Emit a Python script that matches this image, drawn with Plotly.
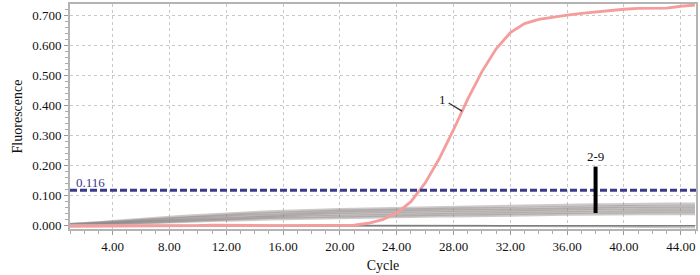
import plotly.graph_objects as go

cycles = list(range(1, 46))

sample_1 = [-0.004, -0.004, -0.003, -0.003, -0.003, -0.002, -0.003, -0.002, -0.002, -0.002,
            0.000, -0.001, -0.002, -0.002, -0.002, -0.002, -0.002, -0.002, -0.002, -0.001,
            0.000, 0.006, 0.018, 0.040, 0.078, 0.140, 0.222, 0.318, 0.420, 0.512,
            0.588, 0.642, 0.672, 0.686, 0.694, 0.700, 0.706, 0.711, 0.716, 0.720,
            0.723, 0.724, 0.724, 0.730, 0.734]

neg_2 = [0.003, 0.005, 0.008, 0.012, 0.016, 0.020, 0.023, 0.026, 0.029, 0.032, 0.035, 0.038, 0.040, 0.042, 0.044,
         0.046, 0.048, 0.050, 0.051, 0.052, 0.053, 0.054, 0.055, 0.056, 0.057, 0.058, 0.059, 0.060, 0.060, 0.061,
         0.061, 0.062, 0.063, 0.064, 0.065, 0.066, 0.067, 0.068, 0.068, 0.069, 0.069, 0.070, 0.070, 0.070, 0.070]
neg_3 = [0.002, 0.004, 0.007, 0.010, 0.013, 0.016, 0.019, 0.022, 0.025, 0.028, 0.031, 0.033, 0.035, 0.037, 0.039,
         0.041, 0.043, 0.045, 0.046, 0.047, 0.048, 0.049, 0.050, 0.051, 0.052, 0.052, 0.053, 0.053, 0.054, 0.054,
         0.055, 0.055, 0.056, 0.057, 0.058, 0.059, 0.060, 0.061, 0.061, 0.062, 0.062, 0.062, 0.063, 0.063, 0.063]
neg_4 = [0.001, 0.003, 0.005, 0.008, 0.011, 0.014, 0.017, 0.020, 0.022, 0.024, 0.026, 0.028, 0.030, 0.032, 0.034,
         0.036, 0.038, 0.040, 0.041, 0.042, 0.043, 0.044, 0.045, 0.046, 0.047, 0.047, 0.048, 0.048, 0.049, 0.049,
         0.050, 0.050, 0.051, 0.052, 0.053, 0.054, 0.055, 0.055, 0.056, 0.056, 0.056, 0.057, 0.057, 0.057, 0.057]
neg_5 = [0.000, 0.002, 0.004, 0.006, 0.009, 0.012, 0.014, 0.016, 0.018, 0.020, 0.022, 0.024, 0.026, 0.028, 0.030,
         0.031, 0.032, 0.034, 0.035, 0.036, 0.037, 0.038, 0.039, 0.040, 0.041, 0.041, 0.042, 0.042, 0.043, 0.043,
         0.044, 0.044, 0.045, 0.046, 0.047, 0.048, 0.048, 0.049, 0.049, 0.050, 0.050, 0.050, 0.050, 0.050, 0.050]
neg_6 = [0.000, 0.001, 0.003, 0.005, 0.007, 0.009, 0.011, 0.013, 0.015, 0.017, 0.018, 0.020, 0.022, 0.023, 0.025,
         0.026, 0.027, 0.028, 0.029, 0.030, 0.031, 0.032, 0.033, 0.034, 0.035, 0.035, 0.036, 0.036, 0.037, 0.037,
         0.038, 0.038, 0.039, 0.040, 0.041, 0.042, 0.042, 0.043, 0.043, 0.044, 0.044, 0.044, 0.044, 0.044, 0.044]
neg_7 = [-0.001, 0.000, 0.002, 0.003, 0.005, 0.007, 0.009, 0.010, 0.012, 0.013, 0.015, 0.016, 0.018, 0.019, 0.020,
         0.021, 0.022, 0.023, 0.024, 0.025, 0.026, 0.027, 0.028, 0.028, 0.029, 0.029, 0.030, 0.030, 0.031, 0.031,
         0.032, 0.032, 0.033, 0.034, 0.035, 0.036, 0.036, 0.037, 0.037, 0.038, 0.038, 0.038, 0.038, 0.038, 0.038]
neg_8 = [-0.002, -0.002, -0.002, -0.002, -0.002, -0.002, -0.002, -0.002, -0.002, -0.002, -0.002, -0.002, -0.002, -0.002, -0.002,
         -0.002, -0.002, -0.002, -0.002, -0.002, -0.002, -0.002, -0.002, -0.002, -0.002, -0.002, -0.002, -0.002, -0.002, -0.002,
         -0.002, -0.002, -0.002, -0.002, -0.002, -0.002, -0.002, -0.002, -0.002, -0.002, -0.002, -0.002, -0.002, -0.002, -0.002]
neg_9 = [0.000, 0.000, 0.000, 0.000, 0.000, 0.000, 0.000, 0.000, 0.000, 0.000, 0.000, 0.000, 0.000, 0.000, 0.000,
         0.000, 0.000, 0.000, 0.000, 0.000, 0.000, 0.000, 0.000, 0.000, -0.001, -0.001, -0.001, -0.002, -0.002, -0.002,
         -0.003, -0.003, -0.003, -0.004, -0.004, -0.004, -0.005, -0.005, -0.005, -0.006, -0.006, -0.007, -0.007, -0.008, -0.008]

threshold = 0.116
bundle = [neg_2, neg_3, neg_4, neg_5, neg_6, neg_7]

font_family = "Liberation Serif, Times New Roman, serif"
thr_color = "#3a3a8c"

fig = go.Figure()

for s in bundle:
    fig.add_trace(go.Scatter(x=cycles, y=s, mode="lines",
                             line=dict(color="rgba(145,135,135,0.45)", width=3),
                             hoverinfo="skip", showlegend=False))
fig.add_trace(go.Scatter(x=cycles, y=neg_9, mode="lines",
                         line=dict(color="rgba(190,185,185,0.8)", width=2),
                         showlegend=False))
fig.add_trace(go.Scatter(x=cycles, y=neg_8, mode="lines",
                         line=dict(color="rgb(125,125,125)", width=1.5),
                         showlegend=False))
fig.add_trace(go.Scatter(x=cycles, y=sample_1, mode="lines",
                         line=dict(color="#f59c9c", width=2.8),
                         showlegend=False))
fig.add_trace(go.Scatter(x=[1, 45.07], y=[threshold, threshold], mode="lines",
                         line=dict(color=thr_color, width=3, dash="7px,3px"),
                         showlegend=False))

# threshold label
fig.add_annotation(x=1.3, y=threshold, text=f"{threshold:.3f}", showarrow=False,
                   xanchor="left", yanchor="bottom", yshift=-2,
                   font=dict(family=font_family, size=13, color=thr_color))
# label 1 with pointer
fig.add_annotation(x=28.6, y=0.38, ax=27.55, ay=0.41, axref="x", ayref="y",
                   text="", showarrow=True, arrowhead=0, arrowwidth=1.3, arrowcolor="#333")
fig.add_annotation(x=27.2, y=0.42, text="1", showarrow=False,
                   font=dict(family=font_family, size=13, color="#111"))
# label 2-9 with bar
fig.add_shape(type="line", x0=38.0, x1=38.0, y0=0.04, y1=0.195, xref="x", yref="y",
              line=dict(color="black", width=4))
fig.add_annotation(x=38.0, y=0.195, text="2-9", showarrow=False, yanchor="bottom", yshift=1,
                   font=dict(family=font_family, size=13, color="#111"))

axis_common = dict(showline=True, linecolor="#b4b4b4", linewidth=2, mirror=True,
                   ticks="outside", ticklen=4, tickcolor="#999",
                   showgrid=True, gridcolor="#c8c8c8", griddash="dot", gridwidth=1,
                   zeroline=False,
                   tickfont=dict(family=font_family, size=13, color="#111"))

fig.update_xaxes(range=[1, 45.07], tick0=4, dtick=4, tickformat=".2f",
                 minor=dict(dtick=1, tick0=0, ticks="outside", ticklen=3, tickcolor="#aaa", showgrid=False),
                 title=dict(text="Cycle", font=dict(family=font_family, size=14, color="#111"), standoff=8),
                 **axis_common)
fig.update_yaxes(range=[-0.0132, 0.7375], tick0=0, dtick=0.1, tickformat=".3f",
                 minor=dict(dtick=0.02, tick0=0, ticks="outside", ticklen=3, tickcolor="#aaa", showgrid=False),
                 title=dict(text="Fluorescence", font=dict(family=font_family, size=14, color="#111"), standoff=6),
                 **axis_common)

fig.update_layout(width=700, height=275, margin=dict(l=70, r=2, t=2, b=46),
                  plot_bgcolor="white", paper_bgcolor="white", showlegend=False,
                  hovermode=False)

fig.write_html("out.html", config={"displayModeBar": False, "staticPlot": True},
               post_script="document.body.style.margin='0';document.body.style.overflow='hidden';")
